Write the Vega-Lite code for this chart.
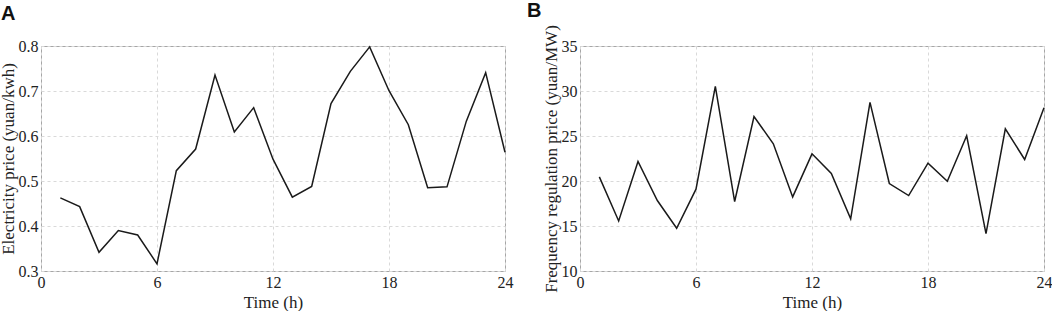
{
  "$schema": "https://vega.github.io/schema/vega-lite/v6.json",
  "padding": {"left": -2, "top": 0, "right": 0, "bottom": 0},
  "spacing": 12,
  "datasets": {
    "elec": [
      {"hour": 1, "price": 0.4625}, {"hour": 2, "price": 0.443}, {"hour": 3, "price": 0.3415},
      {"hour": 4, "price": 0.390}, {"hour": 5, "price": 0.380}, {"hour": 6, "price": 0.316},
      {"hour": 7, "price": 0.523}, {"hour": 8, "price": 0.571}, {"hour": 9, "price": 0.7355},
      {"hour": 10, "price": 0.609}, {"hour": 11, "price": 0.663}, {"hour": 12, "price": 0.5485},
      {"hour": 13, "price": 0.464}, {"hour": 14, "price": 0.488}, {"hour": 15, "price": 0.672},
      {"hour": 16, "price": 0.7436}, {"hour": 17, "price": 0.798}, {"hour": 18, "price": 0.7006},
      {"hour": 19, "price": 0.625}, {"hour": 20, "price": 0.485}, {"hour": 21, "price": 0.487},
      {"hour": 22, "price": 0.633}, {"hour": 23, "price": 0.7407}, {"hour": 24, "price": 0.564}
    ],
    "freq": [
      {"hour": 1, "price": 20.46}, {"hour": 2, "price": 15.56}, {"hour": 3, "price": 22.17},
      {"hour": 4, "price": 17.83}, {"hour": 5, "price": 14.75}, {"hour": 6, "price": 19.09},
      {"hour": 7, "price": 30.51}, {"hour": 8, "price": 17.72}, {"hour": 9, "price": 27.17},
      {"hour": 10, "price": 24.13}, {"hour": 11, "price": 18.23}, {"hour": 12, "price": 23.02},
      {"hour": 13, "price": 20.83}, {"hour": 14, "price": 15.79}, {"hour": 15, "price": 28.73},
      {"hour": 16, "price": 19.72}, {"hour": 17, "price": 18.38}, {"hour": 18, "price": 21.98},
      {"hour": 19, "price": 19.98}, {"hour": 20, "price": 25.02}, {"hour": 21, "price": 14.15},
      {"hour": 22, "price": 25.8}, {"hour": 23, "price": 22.39}, {"hour": 24, "price": 28.14}
    ]
  },
  "hconcat": [
    {
      "title": {"text": "A", "dx": -40, "dy": -10},
      "width": 464,
      "height": 225,
      "data": {"name": "elec"},
      "mark": {"type": "line", "color": "#1a1a1a", "strokeWidth": 1.5},
      "encoding": {
        "x": {"field": "hour", "type": "quantitative", "title": "Time (h)",
              "scale": {"domain": [0, 24], "nice": false},
              "axis": {"values": [0, 6, 12, 18, 24]}},
        "y": {"field": "price", "type": "quantitative", "title": "Electricity price (yuan/kwh)",
              "scale": {"domain": [0.3, 0.8], "nice": false, "zero": false},
              "axis": {"values": [0.3, 0.4, 0.5, 0.6, 0.7, 0.8], "format": ".1f"}}
      }
    },
    {
      "title": {"text": "B", "dx": -53, "dy": 0},
      "width": 464,
      "height": 225,
      "data": {"name": "freq"},
      "mark": {"type": "line", "color": "#1a1a1a", "strokeWidth": 1.5},
      "encoding": {
        "x": {"field": "hour", "type": "quantitative", "title": "Time (h)",
              "scale": {"domain": [0, 24], "nice": false},
              "axis": {"values": [0, 6, 12, 18, 24]}},
        "y": {"field": "price", "type": "quantitative", "title": "Frequency regulation price (yuan/MW)",
              "scale": {"domain": [10, 35], "nice": false, "zero": false},
              "axis": {"values": [10, 15, 20, 25, 30, 35]}}
      }
    }
  ],
  "config": {
    "background": "white",
    "view": {"stroke": "#a6a6a6", "strokeWidth": 1},
    "title": {"anchor": "start", "frame": "group", "font": "Liberation Sans", "fontSize": 20,
              "fontWeight": "bold", "color": "#111111", "offset": 4},
    "axis": {
      "domain": false,
      "ticks": false,
      "grid": true,
      "gridColor": "#d9d9d9",
      "gridDash": [3, 3],
      "gridWidth": 1,
      "labelFont": "Liberation Serif",
      "labelFontSize": 16,
      "labelColor": "#222222",
      "labelPadding": 3,
      "labelFlush": false,
      "titleFont": "Liberation Serif",
      "titleFontSize": 17,
      "titleFontWeight": "normal",
      "titleColor": "#222222"
    },
    "axisX": {"titlePadding": 4},
    "axisY": {"titlePadding": 1}
  }
}
